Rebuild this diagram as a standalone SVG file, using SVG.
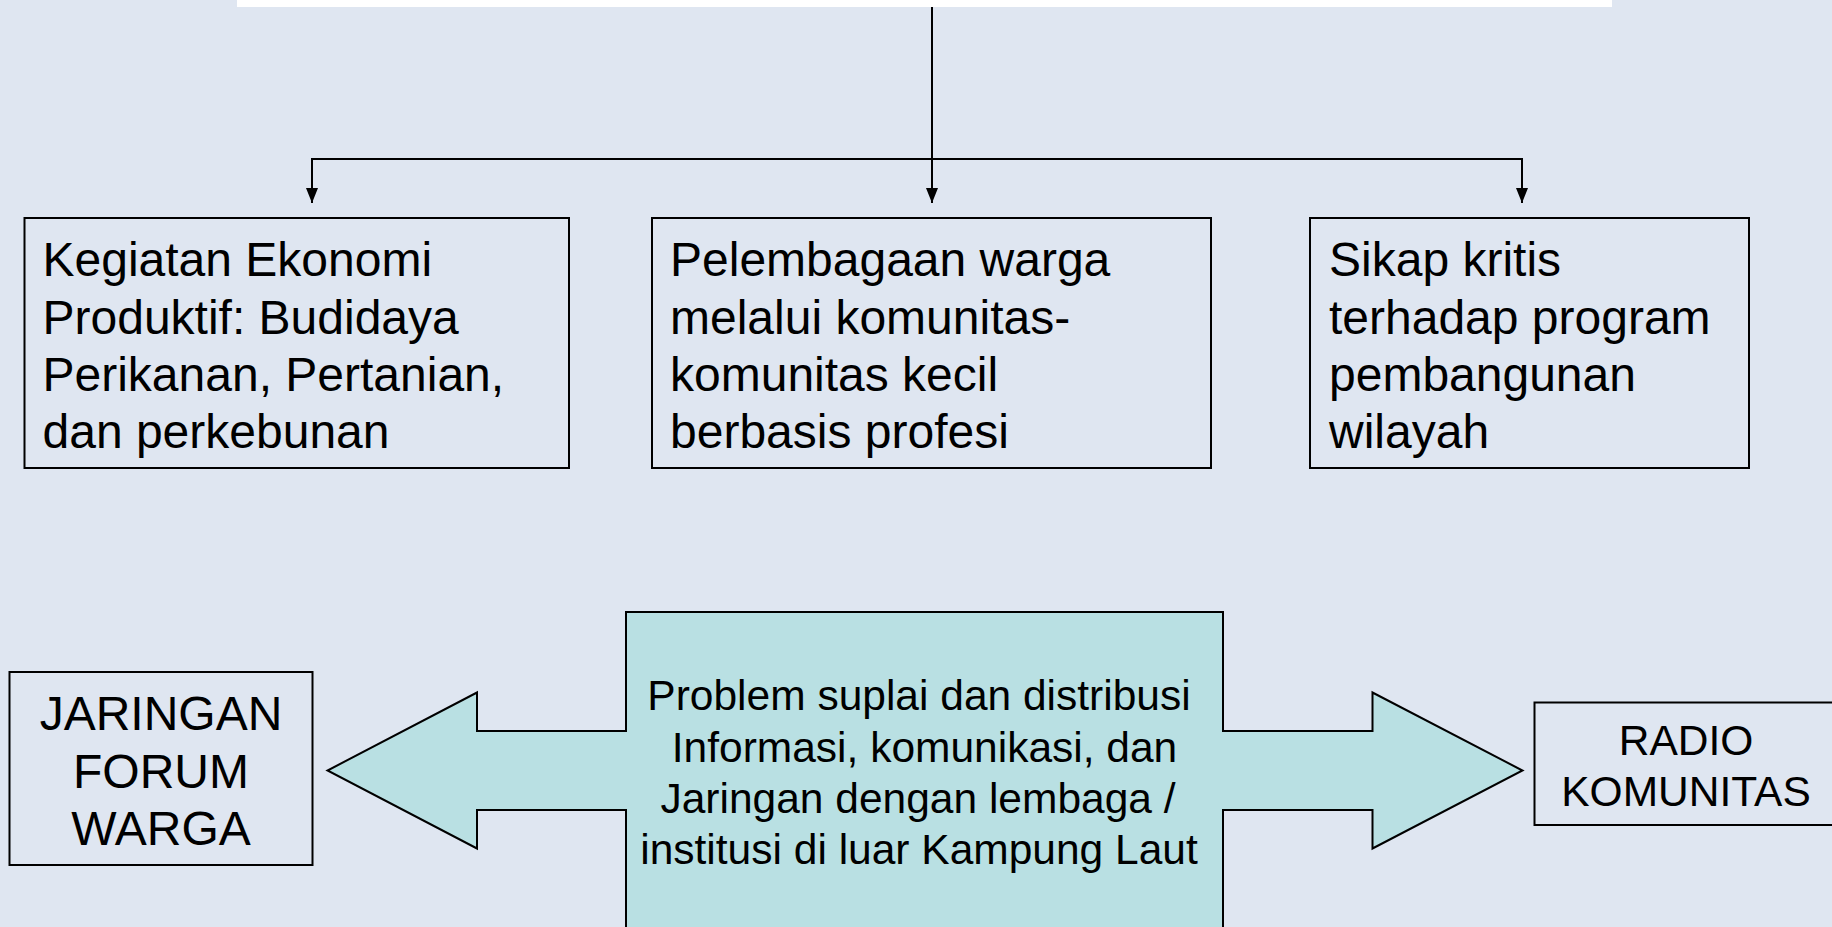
<svg xmlns="http://www.w3.org/2000/svg" width="1832" height="927" viewBox="0 0 1832 927">
<defs>
<style>
.box{fill:none;stroke:#000;stroke-width:2}
.t{font-family:"Liberation Sans",Arial,sans-serif;fill:#000}
.big{font-size:48px}
.mid{font-size:42.5px;text-anchor:middle}
.big.c{text-anchor:middle}
.con{stroke:#000;stroke-width:2;fill:none}
</style>
<marker id="ah" markerUnits="userSpaceOnUse" viewBox="0 0 15 12" refX="15" refY="6" markerWidth="15" markerHeight="12" orient="auto">
<path d="M0,0 L15,6 L0,12 z" fill="#000"/>
</marker>
</defs>
<rect x="0" y="0" width="1832" height="927" fill="#DFE6F1"/>
<g id="top-node">
<rect x="237" y="-10" width="1375" height="17" fill="#FFFFFF"/>
</g>
<g id="connectors">
<line class="con" x1="932" y1="7" x2="932" y2="203" marker-end="url(#ah)"/>
<polyline class="con" points="312,203 312,159 1522,159 1522,203"/>
<line class="con" x1="312" y1="159" x2="312" y2="203" marker-end="url(#ah)"/>
<line class="con" x1="1522" y1="159" x2="1522" y2="203" marker-end="url(#ah)"/>
</g>
<g id="node-ekonomi">
<rect class="box" x="24.5" y="218" width="544.5" height="250"/>
<text class="t big"><tspan x="42.5" y="276">Kegiatan Ekonomi</tspan><tspan x="42.5" y="333.5">Produktif: Budidaya</tspan><tspan x="42.5" y="391">Perikanan, Pertanian,</tspan><tspan x="42.5" y="448">dan perkebunan</tspan></text>
</g>
<g id="node-pelembagaan">
<rect class="box" x="652" y="218" width="559" height="250"/>
<text class="t big"><tspan x="670" y="276">Pelembagaan warga</tspan><tspan x="670" y="333.5">melalui komunitas-</tspan><tspan x="670" y="391">komunitas kecil</tspan><tspan x="670" y="448">berbasis profesi</tspan></text>
</g>
<g id="node-sikap">
<rect class="box" x="1310" y="218" width="439" height="250"/>
<text class="t big"><tspan x="1329" y="276">Sikap kritis</tspan><tspan x="1329" y="333.5">terhadap program</tspan><tspan x="1329" y="391">pembangunan</tspan><tspan x="1329" y="448">wilayah</tspan></text>
</g>
<g id="node-problem">
<path d="M626,612 L1223,612 L1223,731 L1372.5,731 L1372.5,692.5 L1522.5,770.5 L1372.5,848.5 L1372.5,810 L1223,810 L1223,940 L626,940 L626,810 L477,810 L477,848.5 L327.5,770.5 L477,692.5 L477,731 L626,731 Z" fill="#B9E0E3" stroke="#000" stroke-width="2"/>
<text class="t mid"><tspan x="919" y="710">Problem suplai dan distribusi</tspan><tspan x="924.5" y="761.5">Informasi, komunikasi, dan</tspan><tspan x="918" y="813">Jaringan dengan lembaga /</tspan><tspan x="919" y="863.5">institusi di luar Kampung Laut</tspan></text>
</g>
<g id="node-jaringan">
<rect class="box" x="9.5" y="672" width="303" height="193"/>
<text class="t big c"><tspan x="161" y="730">JARINGAN</tspan><tspan x="161" y="787.5">FORUM</tspan><tspan x="161" y="845">WARGA</tspan></text>
</g>
<g id="node-radio">
<rect class="box" x="1534.5" y="702.5" width="310" height="122.5"/>
<text class="t mid"><tspan x="1686" y="754.5">RADIO</tspan><tspan x="1686" y="806">KOMUNITAS</tspan></text>
</g>
</svg>
